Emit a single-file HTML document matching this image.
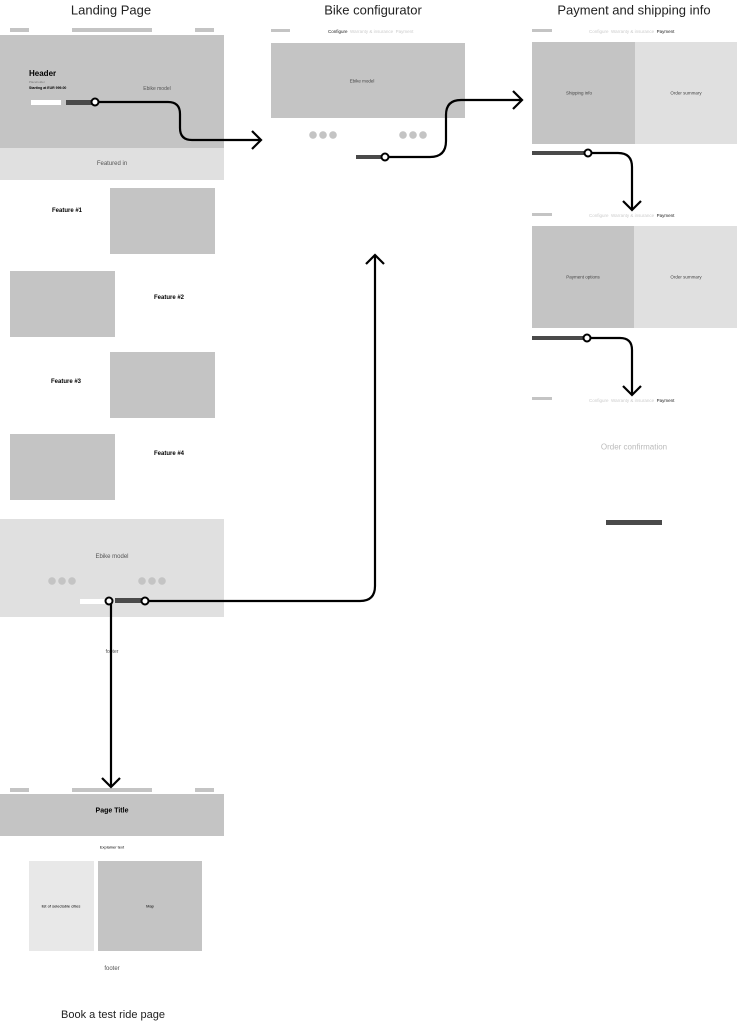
<!DOCTYPE html><html><head><style>
body{margin:0;width:747px;height:1024px;background:#fff;position:relative;font-family:"Liberation Sans",sans-serif;overflow:hidden}
.a{position:absolute}
.g{background:#c4c4c4}.l{background:#e0e0e0}.d{background:#4a4a4a}
.t{position:absolute;transform:translate(-50%,-50%);white-space:nowrap}
</style></head><body>
<div class="t" style="left:111px;top:10px;font-size:13px;color:#222">Landing Page</div>
<div class="t" style="left:373px;top:10px;font-size:13px;color:#222">Bike configurator</div>
<div class="t" style="left:634px;top:10px;font-size:13px;color:#222">Payment and shipping info</div>

<div class="a g" style="left:10px;top:28px;width:19px;height:4px"></div>
<div class="a g" style="left:72px;top:28px;width:80px;height:4px"></div>
<div class="a g" style="left:195px;top:28px;width:19px;height:4px"></div>
<div class="a g" style="left:0;top:35px;width:224px;height:113px"></div>
<div class="a" style="left:29px;top:69px;font-size:8px;font-weight:bold">Header</div>
<div class="a" style="left:29px;top:80px;font-size:3px;color:#777">Placeholder</div>
<div class="a" style="left:29px;top:86px;font-size:3.5px;font-weight:bold">Starting at EUR 999.00</div>
<div class="a" style="left:31px;top:100px;width:30px;height:5px;background:#fff"></div>
<div class="a d" style="left:66px;top:100px;width:30px;height:5px"></div>
<div class="t" style="left:157px;top:89px;font-size:5px;color:#555">Ebike model</div>
<div class="a l" style="left:0;top:148px;width:224px;height:32px"></div>
<div class="t" style="left:112px;top:164px;font-size:6px;color:#555">Featured in</div>

<div class="t" style="left:67px;top:211px;font-size:6px;font-weight:bold">Feature #1</div>
<div class="a g" style="left:110px;top:188px;width:105px;height:66px"></div>
<div class="a g" style="left:10px;top:271px;width:105px;height:66px"></div>
<div class="t" style="left:169px;top:298px;font-size:6px;font-weight:bold">Feature #2</div>
<div class="t" style="left:66px;top:382px;font-size:6px;font-weight:bold">Feature #3</div>
<div class="a g" style="left:110px;top:352px;width:105px;height:66px"></div>
<div class="a g" style="left:10px;top:434px;width:105px;height:66px"></div>
<div class="t" style="left:169px;top:454px;font-size:6px;font-weight:bold">Feature #4</div>

<div class="a l" style="left:0;top:519px;width:224px;height:98px"></div>
<div class="t" style="left:112px;top:557px;font-size:6px;color:#555">Ebike model</div>
<div class="a" style="left:48px;top:576px;width:30px;height:10px;background:radial-gradient(circle at 4px 5px,#c4c4c4 3.5px,transparent 4px) 0 0/10px 10px"></div>
<div class="a" style="left:138px;top:576px;width:30px;height:10px;background:radial-gradient(circle at 4px 5px,#c4c4c4 3.5px,transparent 4px) 0 0/10px 10px"></div>
<div class="a" style="left:80px;top:599px;width:26px;height:5px;background:#fff"></div>
<div class="a d" style="left:115px;top:598px;width:30px;height:5px"></div>
<div class="t" style="left:112px;top:652px;font-size:5px;color:#555">footer</div>

<div class="a g" style="left:10px;top:788px;width:19px;height:4px"></div>
<div class="a g" style="left:72px;top:788px;width:80px;height:4px"></div>
<div class="a g" style="left:195px;top:788px;width:19px;height:4px"></div>
<div class="a g" style="left:0;top:794px;width:224px;height:42px"></div>
<div class="t" style="left:112px;top:811px;font-size:7px;font-weight:bold">Page Title</div>
<div class="t" style="left:112px;top:847px;font-size:4px">Explainer text</div>
<div class="a" style="left:29px;top:861px;width:65px;height:90px;background:#e8e8e8"></div>
<div class="t" style="left:61px;top:906px;font-size:4px">list of selectable cities</div>
<div class="a g" style="left:98px;top:861px;width:104px;height:90px"></div>
<div class="t" style="left:150px;top:906px;font-size:4px">Map</div>
<div class="t" style="left:112px;top:969px;font-size:6px;color:#555">footer</div>
<div class="t" style="left:113px;top:1015px;font-size:11px;color:#222">Book a test ride page</div>

<div class="a g" style="left:271px;top:29px;width:19px;height:3px"></div>
<div class="a" style="left:328px;top:29px;font-size:4.5px;color:#222">Configure <span style="color:#ccc">&nbsp;Warranty &amp; insurance &nbsp;Payment</span></div>
<div class="a g" style="left:271px;top:43px;width:194px;height:75px"></div>
<div class="t" style="left:362px;top:81px;font-size:4.5px;color:#444">Ebike model</div>
<div class="a" style="left:309px;top:130px;width:30px;height:10px;background:radial-gradient(circle at 4px 5px,#c4c4c4 3.5px,transparent 4px) 0 0/10px 10px"></div>
<div class="a" style="left:399px;top:130px;width:30px;height:10px;background:radial-gradient(circle at 4px 5px,#c4c4c4 3.5px,transparent 4px) 0 0/10px 10px"></div>
<div class="a d" style="left:356px;top:155px;width:28px;height:4px"></div>

<div class="a g" style="left:532px;top:29px;width:20px;height:3px"></div>
<div class="a" style="left:589px;top:29px;font-size:4.5px;color:#ccc">Configure &nbsp;Warranty &amp; insurance &nbsp;<span style="color:#222">Payment</span></div>
<div class="a g" style="left:532px;top:42px;width:103px;height:102px"></div>
<div class="a l" style="left:635px;top:42px;width:102px;height:102px"></div>
<div class="t" style="left:579px;top:93px;font-size:4.5px;color:#444">Shipping info</div>
<div class="t" style="left:686px;top:93px;font-size:4.5px;color:#444">Order summary</div>
<div class="a d" style="left:532px;top:151px;width:56px;height:4px"></div>

<div class="a g" style="left:532px;top:213px;width:20px;height:3px"></div>
<div class="a" style="left:589px;top:213px;font-size:4.5px;color:#ccc">Configure &nbsp;Warranty &amp; insurance &nbsp;<span style="color:#222">Payment</span></div>
<div class="a g" style="left:532px;top:226px;width:102px;height:102px"></div>
<div class="a l" style="left:634px;top:226px;width:103px;height:102px"></div>
<div class="t" style="left:583px;top:277px;font-size:4.5px;color:#444">Payment options</div>
<div class="t" style="left:686px;top:277px;font-size:4.5px;color:#444">Order summary</div>
<div class="a d" style="left:532px;top:336px;width:56px;height:4px"></div>

<div class="a g" style="left:532px;top:397px;width:20px;height:3px"></div>
<div class="a" style="left:589px;top:398px;font-size:4.5px;color:#ccc">Configure &nbsp;Warranty &amp; insurance &nbsp;<span style="color:#222">Payment</span></div>
<div class="t" style="left:634px;top:447px;font-size:8px;color:#bbb">Order confirmation</div>
<div class="a d" style="left:606px;top:520px;width:56px;height:5px"></div>

<svg class="a" style="left:0;top:0" width="747" height="1024" fill="none" stroke="#000" stroke-width="2.2">
<path d="M95 102 H168 Q180 102 180 114 V128 Q180 140 192 140 H261"/><path d="M252 131 L261 140 L252 149"/>
<path d="M385 157 H430 Q446 157 446 141 V115 Q446 100 461 100 H522"/><path d="M513 91 L522 100 L513 109"/>
<path d="M588 153 H618 Q632 153 632 167 V210"/><path d="M623 201 L632 210 L641 201"/>
<path d="M587 338 H620 Q632 338 632 350 V395"/><path d="M623 386 L632 395 L641 386"/>
<path d="M145 601 H360 Q375 601 375 586 V255"/><path d="M366 264 L375 255 L384 264"/>
<path d="M111 601 V787"/><path d="M102 778 L111 787 L120 778"/>
<g fill="#fff" stroke-width="2"><circle cx="95" cy="102" r="3.5"/><circle cx="385" cy="157" r="3.5"/><circle cx="588" cy="153" r="3.5"/><circle cx="587" cy="338" r="3.5"/><circle cx="145" cy="601" r="3.5"/><circle cx="109" cy="601" r="3.5"/></g>
</svg>
</body></html>
